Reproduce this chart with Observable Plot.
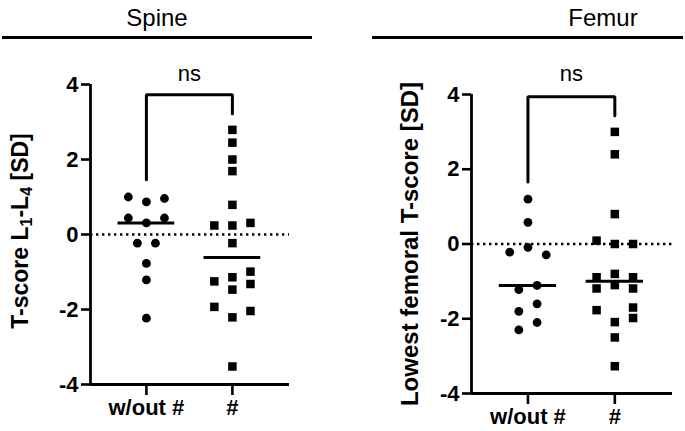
<!DOCTYPE html>
<html><head><meta charset="utf-8">
<script src="https://cdn.jsdelivr.net/npm/d3@7"></script>
<script src="https://cdn.jsdelivr.net/npm/@observablehq/plot@0.6"></script>
<style>
body{margin:0;background:#fff;}
#wrap{position:relative;width:685px;height:431px;font-family:"Liberation Sans",Arial,sans-serif;color:#000;overflow:hidden;background:#fff}
.title{position:absolute;top:4px;font-size:24px;transform:translateX(-50%);white-space:nowrap}
.rule{position:absolute;height:2.5px;background:#000;top:36px}
.ylab{position:absolute;font-weight:bold;font-size:22px;white-space:nowrap;transform:translate(-50%,-50%) rotate(-90deg);line-height:1}
.ylab sub{font-size:0.7em;vertical-align:-0.25em}
.panel{position:absolute;top:0}
</style></head><body>
<div id="wrap">
  <div class="title" style="left:157px">Spine</div>
  <div class="rule" style="left:2px;width:310px"></div>
  <div class="title" style="left:603px">Femur</div>
  <div class="rule" style="left:372px;width:311px"></div>
  <div class="ylab" style="left:22px;top:231px;font-size:23px">T-score L<sub>1</sub>-L<sub>4</sub> [SD]</div>
  <div class="ylab" style="left:410px;top:244px;font-size:24px">Lowest femoral T-score [SD]</div>
  <div class="panel" id="p1" style="left:0px"></div>
  <div class="panel" id="p2" style="left:380px"></div>
</div>
<script>
const groups = ["w/out #", "#"];
const yTicks = [-4, -2, 0, 2, 4];
const sigLabel = "ns";

const spineWithout = [1.0, 0.87, 0.96, 0.44, 0.44, 0.31, -0.23, -0.23, -0.77, -1.21, -2.23];
const spineWithoutLane = [-2, 0, 2, -2, 2, 0, -1, 1, 0, 0, 0];
const spineWith = [2.79, 2.45, 2.0, 1.69, 0.79, 0.24, 0.24, 0.31, -0.23, -1.25, -1.14, -0.99, -1.47, -1.32, -1.93, -2.21, -2.04, -3.52];
const spineWithLane = [0, 0, 0, 0, 0, -2, 0, 2, 0, -2, 0, 2, 0, 2, -2, 0, 2, 0];

const femurWithout = [1.2, 0.58, -0.09, -0.22, -0.29, -1.11, -1.22, -1.6, -1.8, -2.1, -2.3];
const femurWithoutLane = [0, 0, 0, -2, 2, 1, -1, 1, -1, 1, -1];
const femurWith = [3.0, 2.4, 0.8, 0.09, 0.0, 0.0, -0.8, -0.89, -0.89, -1.1, -1.19, -1.19, -1.77, -1.7, -1.98, -2.09, -2.5, -3.27];
const femurWithLane = [0, 0, 0, -2, 0, 2, 0, -2, 2, 0, -2, 2, -2, 2, 2, 0, 0, 0];

// bracket: [left leg bottom, top, right leg bottom]
const spineBracket = [1.46, 3.73, 3.22];
const femurBracket = [1.66, 3.94, 3.43];
const spineNsY = 4.29;
const femurNsY = 4.56;

const XMIN = -0.65, XMAX = 1.664, LANE = 0.105, HALF = 0.33;
const font = "Liberation Sans, Arial, sans-serif";

function panel({without, withoutLane, withV, withLane, bracket, nsY, width, mL, mR, mT, mB}) {
  const ptsA = without.map((v, i) => ({x: 0 + withoutLane[i] * LANE, y: v}));
  const ptsB = withV.map((v, i) => ({x: 1 + withLane[i] * LANE, y: v}));
  const meds = [{g: 0, m: d3.median(without)}, {g: 1, m: d3.median(withV)}];
  const br = [{x: 0, y: bracket[0]}, {x: 0, y: bracket[1]}, {x: 1, y: bracket[1]}, {x: 1, y: bracket[2]}];
  return Plot.plot({
    width, height: 431,
    marginLeft: mL, marginRight: mR, marginTop: mT, marginBottom: mB,
    x: {domain: [XMIN, XMAX]},
    y: {domain: [-4, 4]},
    style: {fontFamily: font, color: "#000", background: "transparent", overflow: "visible"},
    marks: [
      Plot.ruleY([0], {x1: XMIN, x2: XMAX, stroke: "#000", strokeWidth: 2.6, strokeDasharray: "2.4,3.6"}),
      Plot.ruleX([XMIN], {y1: -4, y2: 4, stroke: "#000", strokeWidth: 2.8}),
      Plot.ruleY([-4], {x1: XMIN, x2: XMAX, stroke: "#000", strokeWidth: 2.8}),
      Plot.axisY({ticks: yTicks, tickFormat: d => String(d), tickSize: 9, tickPadding: 3, strokeWidth: 2.6,
        fontSize: 22, fontWeight: "bold", label: null}),
      Plot.axisX({ticks: [0, 1], tickFormat: i => groups[i], tickSize: 11, tickPadding: 4, strokeWidth: 2.6,
        fontSize: 22, fontWeight: "bold", label: null}),
      Plot.dot(ptsA, {x: "x", y: "y", symbol: "circle", r: 4.4, fill: "#000", stroke: null}),
      Plot.dot(ptsB, {x: "x", y: "y", symbol: "square", r: 4.8, fill: "#000", stroke: null}),
      Plot.ruleY(meds, {y: "m", x1: d => d.g - HALF, x2: d => d.g + HALF, stroke: "#000", strokeWidth: 3}),
      Plot.line(br, {x: "x", y: "y", stroke: "#000", strokeWidth: 3, strokeLinejoin: "miter", curve: "linear"}),
      Plot.text([sigLabel], {x: 0.5, y: nsY, text: d => d, fontSize: 22, fill: "#000"})
    ]
  });
}

document.getElementById("p1").appendChild(panel({
  without: spineWithout, withoutLane: spineWithoutLane, withV: spineWith, withLane: spineWithLane,
  bracket: spineBracket, nsY: spineNsY, width: 300, mL: 90, mR: 11, mT: 84, mB: 47
}));
document.getElementById("p2").appendChild(panel({
  without: femurWithout, withoutLane: femurWithoutLane, withV: femurWith, withLane: femurWithLane,
  bracket: femurBracket, nsY: femurNsY, width: 305, mL: 91, mR: 13, mT: 94, mB: 38
}));
</script>
</body></html>
